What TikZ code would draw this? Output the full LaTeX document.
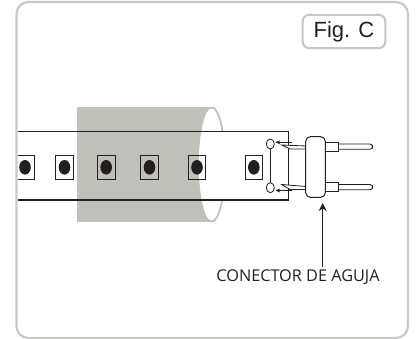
\documentclass[tikz,border=0pt]{standalone}
\usepackage{fontspec}
\setmainfont{Open Sans}
\newfontfamily\figfont{Liberation Sans}
\usetikzlibrary{arrows.meta}
\definecolor{framegray}{HTML}{C8C9C7}
\definecolor{tubegray}{HTML}{C0C1BB}
\definecolor{inkc}{HTML}{231F20}
\tikzset{
 framebox/.style={draw=framegray,line width=1.6pt,fill=white,rounded corners=9pt},
 stripline/.style={draw=inkc,line width=0.8pt},
 inkthin/.style={draw=inkc,line width=0.6pt},
 ledbox/.style={draw=inkc,line width=0.75pt},
 leddot/.style={fill=inkc},
 smallarrow/.style={draw=inkc,line width=0.45pt,-{Stealth[length=3.5pt,width=3pt]}},
}
\begin{document}
\begin{tikzpicture}[x=0.75pt,y=-0.75pt]
\useasboundingbox (0,0) rectangle (418,339);
\fill[white] (0,0) rectangle (418,339);
\draw[framebox] (16.5,2) rectangle (408,338);
\node[draw=framegray,line width=1.6pt,rounded corners=5pt,minimum width=62pt,minimum height=25pt,inner sep=0pt,font=\figfont\fontsize{16.5pt}{18pt}\selectfont,text=inkc] (figlabel) at (344,31.5) {Fig. C};
% tube
\fill[tubegray] (77,107) rectangle (212,222);
\fill[tubegray] (212,164.5) ellipse[x radius=14,y radius=58];
\fill[white] (211.5,164.5) ellipse[x radius=12.5,y radius=56];
% strip
\fill[white] (18,131) rectangle (77,200);
\fill[white] (212,131) rectangle (288.5,200);
\begin{scope}
\clip (211.5,164.5) ellipse[x radius=12.5,y radius=56];
\fill[white] (190,131) rectangle (212,200);
\end{scope}
\draw[stripline] (18,131.5) -- (288.5,131.5) -- (288.5,200) -- (18,200);
% LEDs
\foreach \x/\w in {55.7/17.6,97.3/17.7,140.7/17.6,188.3/17.4,245/17.7}{
  \draw[ledbox] (\x,155.5) rectangle ++(\w,23.5);
  \fill[leddot] (\x+\w/2,167.3) ellipse[x radius=5.8,y radius=7.3];
}
\draw[ledbox] (18,155.5) -- (34,155.5) -- (34,179) -- (18,179);
\fill[leddot] (25,167.3) ellipse[x radius=5.8,y radius=7.3];
% pads
\draw[inkthin] (270.3,149) -- (270.3,183);
\draw[inkthin,fill=white] (270.3,144) ellipse[x radius=4,y radius=5];
\draw[inkthin,fill=white] (270.3,187.7) ellipse[x radius=4,y radius=5];
% small arrows
\draw[smallarrow] (292,142.3) -- (275.5,142.3);
\draw[smallarrow] (292,190.5) -- (275.5,190.5);
% needles
\draw[inkthin,fill=white] (306,146) -- (281.7,145) -- (290,149) -- (306,149);
\draw[inkthin,fill=white] (306,186.5) -- (281.7,184.5) -- (290,189.5) -- (306,189.5);
% right pins
\draw[inkthin,fill=white,rounded corners=2pt] (338,144) -- (372.5,144) -- (372.5,149.3) -- (338,149.3);
\draw[inkthin,fill=white,rounded corners=2pt] (338,184.5) -- (372.5,184.5) -- (372.5,189.8) -- (338,189.8);
\draw[inkthin,line width=0.75pt,fill=white] (325,142.3) rectangle (338,151);
\draw[inkthin,line width=0.75pt,fill=white] (325,182) rectangle (338,191);
% body
\node[draw=inkc,line width=0.75pt,fill=white,rounded corners=3.5pt,minimum width=14.7pt,minimum height=45.5pt,inner sep=0pt] (body) at (315.5,167) {};
% label
\node[inner sep=0pt,text=inkc,font=\fontsize{12.2pt}{14pt}\selectfont] (label) at (298,277.5) {CONECTOR DE AGUJA};
\coordinate (labelstem) at (322.7,267);
\coordinate (bodytip) at (322.7,203);
\draw[draw=inkc,line width=0.8pt,-{Stealth[length=6pt,width=6pt]}] (labelstem) -- (bodytip);
\end{tikzpicture}
\end{document}
